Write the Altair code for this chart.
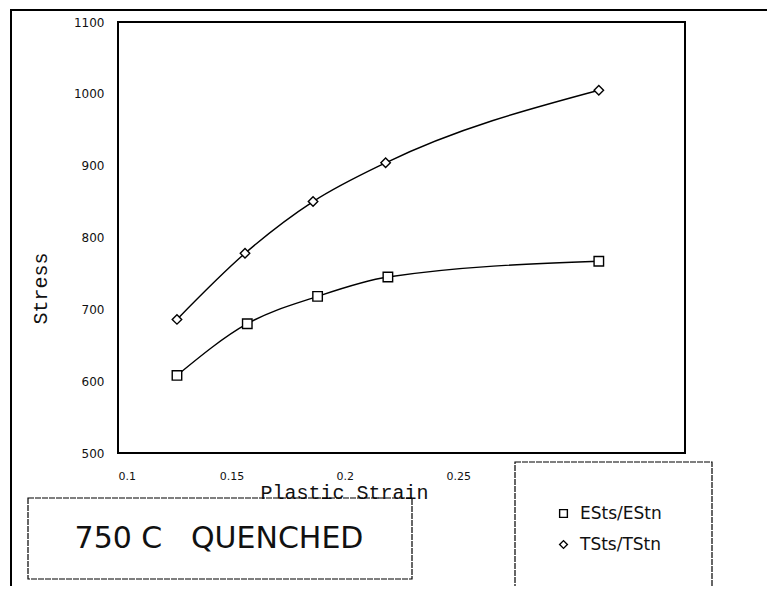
import altair as alt
import pandas as pd

# ---- data ----
series_names = ["ESts/EStn", "TSts/TStn"]
e_strain = [0.126, 0.157, 0.188, 0.219, 0.312]
e_stress = [608, 680, 718, 745, 767]
t_strain = [0.126, 0.156, 0.186, 0.218, 0.312]
t_stress = [686, 778, 850, 904, 1005]

x_ticks = [0.1, 0.15, 0.2, 0.25]
y_ticks = [500, 600, 700, 800, 900, 1000, 1100]
panel_title = "750 C\u00a0\u00a0\u00a0QUENCHED"

rows = []
for x, y in zip(e_strain, e_stress):
    rows.append({"series": series_names[0], "strain": x, "stress": y})
for x, y in zip(t_strain, t_stress):
    rows.append({"series": series_names[1], "strain": x, "stress": y})
df = pd.DataFrame(rows)

W, H = 567, 431
shapes = ["square", "diamond"]

xscale = alt.Scale(domain=[0.1, 0.35], nice=False, zero=False)
yscale = alt.Scale(domain=[500, 1100], nice=False, zero=False)

xaxis = alt.Axis(
    values=x_ticks, format="~g", grid=False, ticks=False, domain=False,
    labelFont="DejaVu Sans", labelFontSize=11, labelPadding=17, labelColor="#111",
    title="Plastic Strain", titleFont="Liberation Mono", titleFontSize=20,
    titleFontWeight="normal", titleColor="#111", titleX=226, titleY=39,
    titleBaseline="middle", titleAnchor="middle",
)
yaxis = alt.Axis(
    values=y_ticks, format="d", grid=False, ticks=False, domain=False,
    labelFont="DejaVu Sans", labelFontSize=12, labelPadding=14, labelColor="#111",
    title="Stress", titleFont="Liberation Mono", titleFontSize=20,
    titleFontWeight="normal", titleColor="#111", titleX=-78, titleY=266,
    titleBaseline="middle", titleAnchor="middle",
)

legend = alt.Legend(
    title=None, orient="none", legendX=437, legendY=483,
    labelFont="DejaVu Sans", labelFontSize=17, labelColor="#111",
    symbolSize=60, symbolStrokeWidth=1.4, rowPadding=13, labelOffset=8,
)

base = alt.Chart(df)

lines = base.mark_line(interpolate="monotone", color="black", strokeWidth=1.4).encode(
    x=alt.X("strain:Q", scale=xscale, axis=xaxis),
    y=alt.Y("stress:Q", scale=yscale, axis=yaxis),
    detail="series:N",
)

# white under the open markers so the curves stop at their edges
bg_layers = [
    base.transform_filter(alt.datum.series == name)
    .mark_point(filled=True, color="white", size=90, opacity=1, shape=shp)
    .encode(x="strain:Q", y="stress:Q")
    for name, shp in zip(series_names, shapes)
]

points = base.mark_point(filled=False, strokeWidth=1.4, size=90, opacity=1).encode(
    x="strain:Q",
    y="stress:Q",
    color=alt.Color("series:N",
                    scale=alt.Scale(domain=series_names, range=["black", "black"]),
                    legend=legend),
    shape=alt.Shape("series:N",
                    scale=alt.Scale(domain=series_names, range=shapes),
                    legend=legend),
)

deco = pd.DataFrame({"k": [0]})

title_box = alt.Chart(deco).mark_rect(fill=None, stroke="black", strokeWidth=1.2,
                                      strokeDash=[6, 1]).encode(
    x=alt.value(-90), x2=alt.value(294), y=alt.value(476), y2=alt.value(557)
)
title_text = alt.Chart(deco).mark_text(
    text=panel_title, font="DejaVu Sans", fontSize=30, color="#111",
    align="center", baseline="middle"
).encode(x=alt.value(101), y=alt.value(517))

legend_box = alt.Chart(deco).mark_rect(fill=None, stroke="black", strokeWidth=1.2,
                                       strokeDash=[6, 1]).encode(
    x=alt.value(397), x2=alt.value(594), y=alt.value(440), y2=alt.value(566)
)
frame_top = alt.Chart(deco).mark_rule(color="black", strokeWidth=2).encode(
    x=alt.value(-108), x2=alt.value(660), y=alt.value(-12)
)
frame_left = alt.Chart(deco).mark_rule(color="black", strokeWidth=2).encode(
    x=alt.value(-107), y=alt.value(-12), y2=alt.value(575)
)

chart = alt.layer(
    lines, *bg_layers, points, title_box, title_text, legend_box, frame_top, frame_left
).properties(
    width=W, height=H,
    autosize=alt.AutoSizeParams(type="none"),
    padding={"left": 110, "top": 14, "right": 82, "bottom": 133},
    background="white",
).configure_view(
    stroke="black", strokeWidth=2
)

chart.save("out.html", embed_options={"renderer": "svg", "actions": False})
